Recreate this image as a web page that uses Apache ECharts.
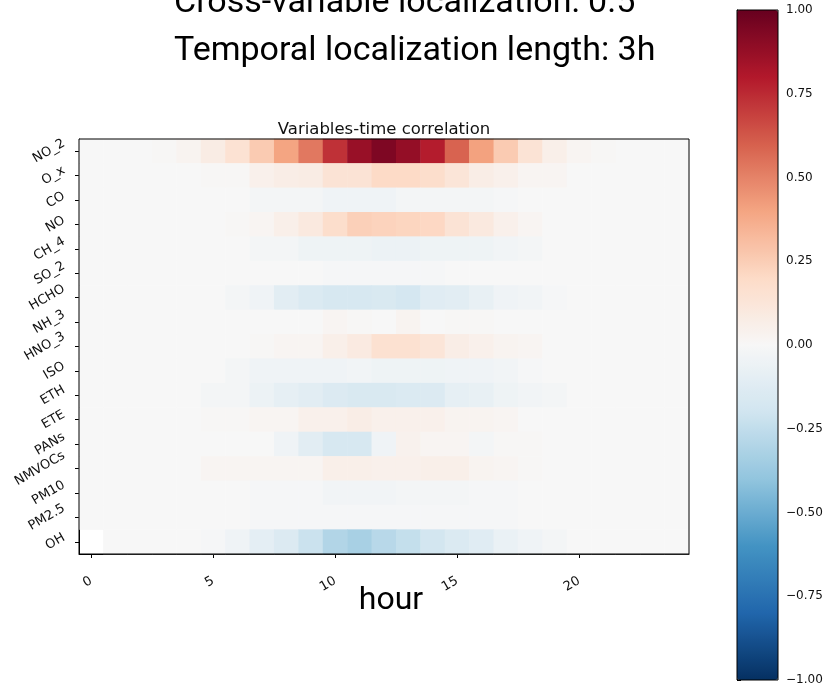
<!DOCTYPE html>
<html>
<head>
<meta charset="utf-8">
<script src="https://cdn.jsdelivr.net/npm/echarts@6/dist/echarts.min.js"></script>
<style>
  html, body { margin: 0; background: #fff; }
  #chart { width: 825px; height: 689px; }
</style>
</head>
<body>
<div id="chart"></div>
<script>
// axis categories
const hours = [0, 1, 2, 3, 4, 5, 6, 7, 8, 9, 10, 11, 12, 13, 14, 15, 16, 17, 18, 19, 20, 21, 22, 23, 24]
const variables = ['NO_2', 'O_x', 'CO', 'NO', 'CH_4', 'SO_2', 'HCHO', 'NH_3', 'HNO_3', 'ISO', 'ETH', 'ETE', 'PANs', 'NMVOCs', 'PM10', 'PM2.5', 'OH']

// correlation per variable, hour 0..24
const rowNO2   = [0, 0, 0, 0.01, 0.03, 0.08, 0.15, 0.26, 0.40, 0.53, 0.73, 0.87, 0.94, 0.88, 0.79, 0.59, 0.41, 0.26, 0.14, 0.06, 0.02, 0.01, 0, 0, 0]
const rowOx    = [0, 0, 0, 0, 0, 0.01, 0.01, 0.05, 0.07, 0.08, 0.14, 0.14, 0.20, 0.20, 0.18, 0.13, 0.07, 0.05, 0.02, 0.02, 0, 0, 0, 0, 0]
const rowCO    = [0, 0, 0, 0, 0, 0, 0, -0.02, -0.02, -0.02, -0.04, -0.04, -0.04, -0.02, -0.02, -0.02, -0.02, -0.01, 0, 0, 0, 0, 0, 0, 0]
const rowNO    = [0, 0, 0, 0, 0, 0, 0.01, 0.02, 0.06, 0.10, 0.18, 0.24, 0.23, 0.22, 0.21, 0.14, 0.10, 0.05, 0.02, 0, 0, 0, 0, 0, 0]
const rowCH4   = [0, 0, 0, 0, 0, 0, 0, -0.02, -0.02, -0.05, -0.05, -0.05, -0.06, -0.06, -0.05, -0.05, -0.05, -0.03, -0.02, 0, 0, 0, 0, 0, 0]
const rowSO2   = [0, 0, 0, 0, 0, 0, 0, 0, 0, 0, -0.01, -0.01, -0.01, -0.01, -0.01, 0, 0, 0, 0, 0, 0, 0, 0, 0, 0]
const rowHCHO  = [0, 0, 0, 0, 0, 0, -0.02, -0.04, -0.11, -0.15, -0.17, -0.17, -0.16, -0.18, -0.12, -0.11, -0.08, -0.04, -0.03, -0.01, 0, 0, 0, 0, 0]
const rowNH3   = [0, 0, 0, 0, 0, 0, 0, 0, 0, 0, 0.02, 0.01, 0, 0.03, 0, 0.01, 0.01, 0, 0, 0, 0, 0, 0, 0, 0]
const rowHNO3  = [0, 0, 0, 0, 0, 0, 0, 0.01, 0.02, 0.02, 0.06, 0.09, 0.16, 0.16, 0.13, 0.07, 0.05, 0.03, 0.02, 0, 0, 0, 0, 0, 0]
const rowISO   = [0, 0, 0, 0, 0, 0, -0.02, -0.04, -0.04, -0.04, -0.04, -0.03, -0.05, -0.05, -0.05, -0.04, -0.04, -0.03, -0.01, 0, 0, 0, 0, 0, 0]
const rowETH   = [0, 0, 0, 0, 0, -0.02, -0.02, -0.06, -0.09, -0.11, -0.14, -0.16, -0.16, -0.15, -0.14, -0.09, -0.08, -0.05, -0.03, -0.02, 0, 0, 0, 0, 0]
const rowETE   = [0, 0, 0, 0, 0, 0.01, 0.01, 0.02, 0.02, 0.05, 0.05, 0.07, 0.05, 0.05, 0.05, 0.03, 0.03, 0.02, 0, 0, 0, 0, 0, 0, 0]
const rowPANs  = [0, 0, 0, 0, 0, 0, 0, 0, -0.04, -0.11, -0.17, -0.17, -0.04, 0.04, 0.02, 0.02, -0.02, 0.01, 0.01, 0, 0, 0, 0, 0, 0]
const rowNMVOC = [0, 0, 0, 0, 0, 0.02, 0.02, 0.02, 0.02, 0.02, 0.06, 0.06, 0.05, 0.05, 0.06, 0.06, 0.03, 0.02, 0.01, 0, 0, 0, 0, 0, 0]
const rowPM10  = [0, 0, 0, 0, 0, 0, 0, -0.01, -0.01, -0.01, -0.03, -0.03, -0.03, -0.02, -0.02, -0.02, -0.01, -0.01, 0, 0, 0, 0, 0, 0, 0]
const rowPM25  = [0, 0, 0, 0, 0, 0, 0, -0.01, -0.01, -0.01, -0.01, -0.01, -0.01, -0.01, -0.01, -0.01, -0.01, -0.01, 0, 0, 0, 0, 0, 0, 0]
const rowOH    = [null, 0, 0, 0, 0, -0.01, -0.04, -0.10, -0.14, -0.22, -0.30, -0.33, -0.28, -0.24, -0.19, -0.15, -0.12, -0.07, -0.04, -0.02, 0, 0, 0, 0, 0]

const rows = [rowNO2, rowOx, rowCO, rowNO, rowCH4, rowSO2, rowHCHO, rowNH3, rowHNO3, rowISO, rowETH, rowETE, rowPANs, rowNMVOC, rowPM10, rowPM25, rowOH]

// matplotlib RdBu_r
const rdbuR = ['#053061', '#2166ac', '#4393c3', '#92c5de', '#d1e5f0', '#f7f7f7', '#fddbc7', '#f4a582', '#d6604d', '#b2182b', '#67001f']

const heatData = []
rows.forEach((row, y) => {
  row.forEach((v, x) => {
    if (v !== null) heatData.push([x, y, v])
  })
})

const labelFont = 'DejaVu Sans'
const titleFont = 'Roboto'
const tickSize = 13
const gridLeft = 79
const fmtTick = v => (v < 0 ? '\u2212' : '') + Math.abs(v).toFixed(2)
const every5 = i => i % 5 === 0

const chart = echarts.init(document.getElementById('chart'))

chart.setOption({
  animation: false,
  backgroundColor: '#fff',
  title: [
    {
      text: 'Cross-variable localization: 0.5',
      left: 169, top: -22,
      textStyle: { fontFamily: titleFont, fontSize: 34, lineHeight: 40, fontWeight: 'normal', color: '#000' }
    },
    {
      text: 'Temporal localization length: 3h',
      left: 169, top: 26,
      textStyle: { fontFamily: titleFont, fontSize: 34, lineHeight: 40, fontWeight: 'normal', color: '#000' }
    },
    {
      text: 'Variables-time correlation',
      left: 379, top: 116, textAlign: 'center',
      textStyle: { fontFamily: labelFont, fontSize: 16.5, fontWeight: 'normal', color: '#111' }
    },
    {
      text: 'hour',
      left: 386, top: 578, textAlign: 'center',
      textStyle: { fontFamily: titleFont, fontSize: 32, lineHeight: 36, fontWeight: 'normal', color: '#000' }
    }
  ],
  grid: [
    { left: gridLeft, top: 139, width: 610, height: 415, show: true, z: 10, outerBoundsMode: 'none', containLabel: false,
      borderColor: '#000', borderWidth: 1, backgroundColor: 'transparent' },
    { left: 737, top: 10, width: 41, height: 670, show: true, z: 10, outerBoundsMode: 'none', containLabel: false,
      borderColor: '#000', borderWidth: 1, backgroundColor: 'transparent' }
  ],
  xAxis: [
    {
      type: 'category', gridIndex: 0, data: hours,
      axisLine: { show: true, lineStyle: { color: '#000' } },
      axisTick: { show: true, interval: every5, alignWithLabel: true, length: 4, lineStyle: { color: '#000' } },
      axisLabel: { interval: every5, rotate: 30, margin: 26, fontFamily: labelFont, fontSize: tickSize, color: '#111' },
      splitLine: { show: false }
    },
    { type: 'value', gridIndex: 1, show: false, min: 0, max: 1 }
  ],
  yAxis: [
    {
      type: 'category', gridIndex: 0, data: variables, inverse: true,
      axisLine: { show: true, lineStyle: { color: '#000' } },
      axisTick: { show: true, alignWithLabel: true, length: 4, lineStyle: { color: '#000' } },
      axisLabel: { show: false },
      splitLine: { show: false }
    },
    {
      type: 'value', gridIndex: 1, position: 'right', min: -1, max: 1, interval: 0.25,
      axisLine: { show: true, lineStyle: { color: '#000' } },
      axisTick: { show: true, length: 4, lineStyle: { color: '#000' } },
      axisLabel: { formatter: fmtTick, margin: 8, fontFamily: labelFont, fontSize: 12, color: '#111' },
      splitLine: { show: false }
    }
  ],
  visualMap: {
    type: 'continuous', min: -1, max: 1, seriesIndex: 0,
    calculable: false, hoverLink: false, realtime: false,
    orient: 'vertical', left: 737, top: 10, padding: 0,
    itemWidth: 41, itemHeight: 670, text: null, showLabel: false,
    inRange: { color: rdbuR }
  },
  series: [
    {
      type: 'heatmap', xAxisIndex: 0, yAxisIndex: 0, data: heatData,
      itemStyle: { borderWidth: 0 },
      emphasis: { disabled: true }
    },
    {
      type: 'line', xAxisIndex: 1, yAxisIndex: 1, data: [], silent: true
    }
  ]
})

// y tick labels, matplotlib style: the rotated text box is centred on its tick
// (echarts would rotate round the end of the text), so place them from the axis scale
const rot = 30 * Math.PI / 180
const measure = document.createElement('canvas').getContext('2d')
measure.font = tickSize + 'px "' + labelFont + '"'
const yLabelText = variables.map(name => {
  const tickY = chart.convertToPixel({ yAxisIndex: 0 }, name)
  const w = measure.measureText(name).width
  return {
    type: 'text',
    x: gridLeft - 15,
    y: tickY - w * Math.sin(rot) / 2,
    rotation: rot,
    silent: true,
    style: {
      text: name, align: 'right', verticalAlign: 'middle',
      font: tickSize + 'px "' + labelFont + '"', fill: '#111'
    }
  }
})
chart.setOption({ graphic: yLabelText })
</script>
</body>
</html>
